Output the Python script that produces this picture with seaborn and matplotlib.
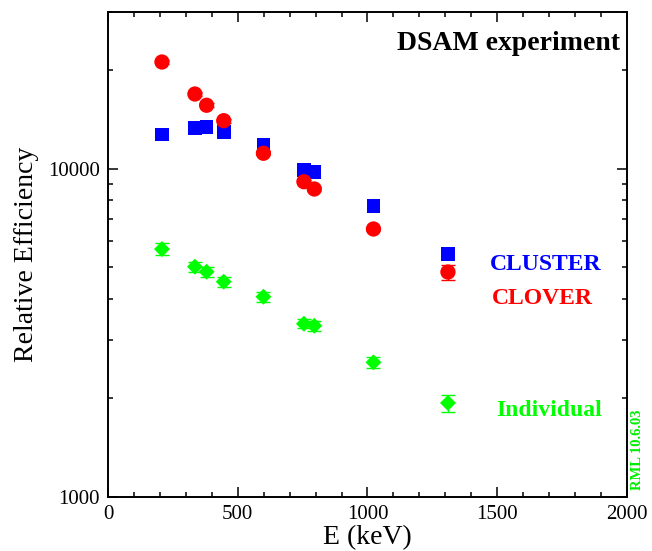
import seaborn as sns
import matplotlib.pyplot as plt
import matplotlib.ticker as mticker
import pandas as pd

OUTPUT_FILE_NAME = "out.png"

# gamma-ray energies (keV)
energy = [208, 335, 380, 446, 599, 755, 795, 1023]
# relative efficiencies
cluster_eff = [12700, 13260, 13410, 12890, 11770, 9900, 9760, 7690]
clover_eff = [21120, 16870, 15590, 13990, 11130, 9115, 8660, 6540]
clover_err = [300, 240, 220, 200, 160, 130, 120, 90]
indiv_eff = [5680, 5020, 4845, 4517, 4065, 3363, 3316, 2565]
indiv_err = [245, 170, 165, 155, 140, 110, 110, 100]

# key symbols next to the labels
key_energy = 1310
key_eff = {"CLUSTER": 5490, "CLOVER": 4835, "Individual": 1928}
key_err = {"CLUSTER": 0, "CLOVER": 260, "Individual": 115}

colors = {"CLUSTER": "#0000ff", "CLOVER": "#ff0000", "Individual": "#00ff00"}
markers = {"CLUSTER": "s", "CLOVER": "o", "Individual": "D"}
sizes = {"CLUSTER": 98, "CLOVER": 121, "Individual": 66}


if __name__ == "__main__":
    rows = []
    for det, vals, errs in [("CLUSTER", cluster_eff, [0] * len(energy)),
                            ("CLOVER", clover_eff, clover_err),
                            ("Individual", indiv_eff, indiv_err)]:
        for e, v, dv in zip(energy, vals, errs):
            rows.append({"E": e, "eff": v, "err": dv, "detector": det})
        rows.append({"E": key_energy, "eff": key_eff[det], "err": key_err[det], "detector": det})
    data = pd.DataFrame(rows)

    sns.set_style("ticks")
    plt.rcParams["font.family"] = ["Liberation Serif", "DejaVu Serif"]
    for key in ["text.color", "axes.labelcolor", "xtick.color", "ytick.color", "axes.edgecolor"]:
        plt.rcParams[key] = "black"

    fig = plt.figure(figsize=(6.52, 5.51), dpi=100)
    ax = fig.add_axes([0.1656, 0.0989, 0.7961, 0.8793])

    # error bars under the symbols
    for det, df in data.groupby("detector"):
        df = df[df["err"] > 0]
        if len(df):
            ax.errorbar(df["E"], df["eff"], yerr=df["err"], fmt="none",
                        ecolor=colors[det], elinewidth=1, capsize=5, capthick=1, zorder=2)

    sns.scatterplot(data=data, x="E", y="eff", hue="detector", style="detector",
                    size="detector", palette=colors, markers=markers, sizes=sizes,
                    linewidth=0, legend=False, ax=ax, zorder=3)

    ax.set_yscale("log")
    ax.set_xlim(0, 2000)
    ax.set_ylim(1000, 30000)
    ax.xaxis.set_major_locator(mticker.MultipleLocator(500))
    ax.xaxis.set_minor_locator(mticker.MultipleLocator(100))
    ax.yaxis.set_major_locator(mticker.LogLocator(base=10))
    ax.yaxis.set_minor_locator(mticker.LogLocator(base=10, subs=range(2, 10)))
    ax.yaxis.set_major_formatter(mticker.FuncFormatter(lambda v, p: "%d" % v))
    ax.yaxis.set_minor_formatter(mticker.NullFormatter())

    ax.tick_params(which="both", direction="in", top=True, right=True,
                   labelsize=15, color="black", labelcolor="black", pad=6)
    ax.tick_params(which="major", length=7.2, width=1.1)
    ax.tick_params(which="minor", length=3.6, width=1.1)
    for sp in ax.spines.values():
        sp.set_linewidth(1.4)
        sp.set_color("black")

    ax.set_xlabel("E (keV)", fontsize=20, labelpad=1, color="black")
    ax.set_ylabel("Relative Efficiency", fontsize=20, labelpad=6, color="black")

    ax.text(0.9865, 0.921, "DSAM experiment", transform=ax.transAxes,
            ha="right", va="baseline", fontsize=20, fontweight="bold", color="black")
    ax.text(0.736, 0.468, "CLUSTER", transform=ax.transAxes, ha="left",
            va="baseline", fontsize=17, fontweight="bold", color=colors["CLUSTER"])
    ax.text(0.740, 0.3975, "CLOVER", transform=ax.transAxes, ha="left",
            va="baseline", fontsize=17, fontweight="bold", color=colors["CLOVER"])
    ax.text(0.7476, 0.1656, "Individual", transform=ax.transAxes, ha="left",
            va="baseline", fontsize=17, fontweight="bold", color=colors["Individual"])
    fig.text(0.978, 0.183, "RML 10.6.03", rotation=90, ha="center", va="center",
             fontsize=10.5, fontweight="bold", color="#00ee00")

    plt.savefig(OUTPUT_FILE_NAME)
